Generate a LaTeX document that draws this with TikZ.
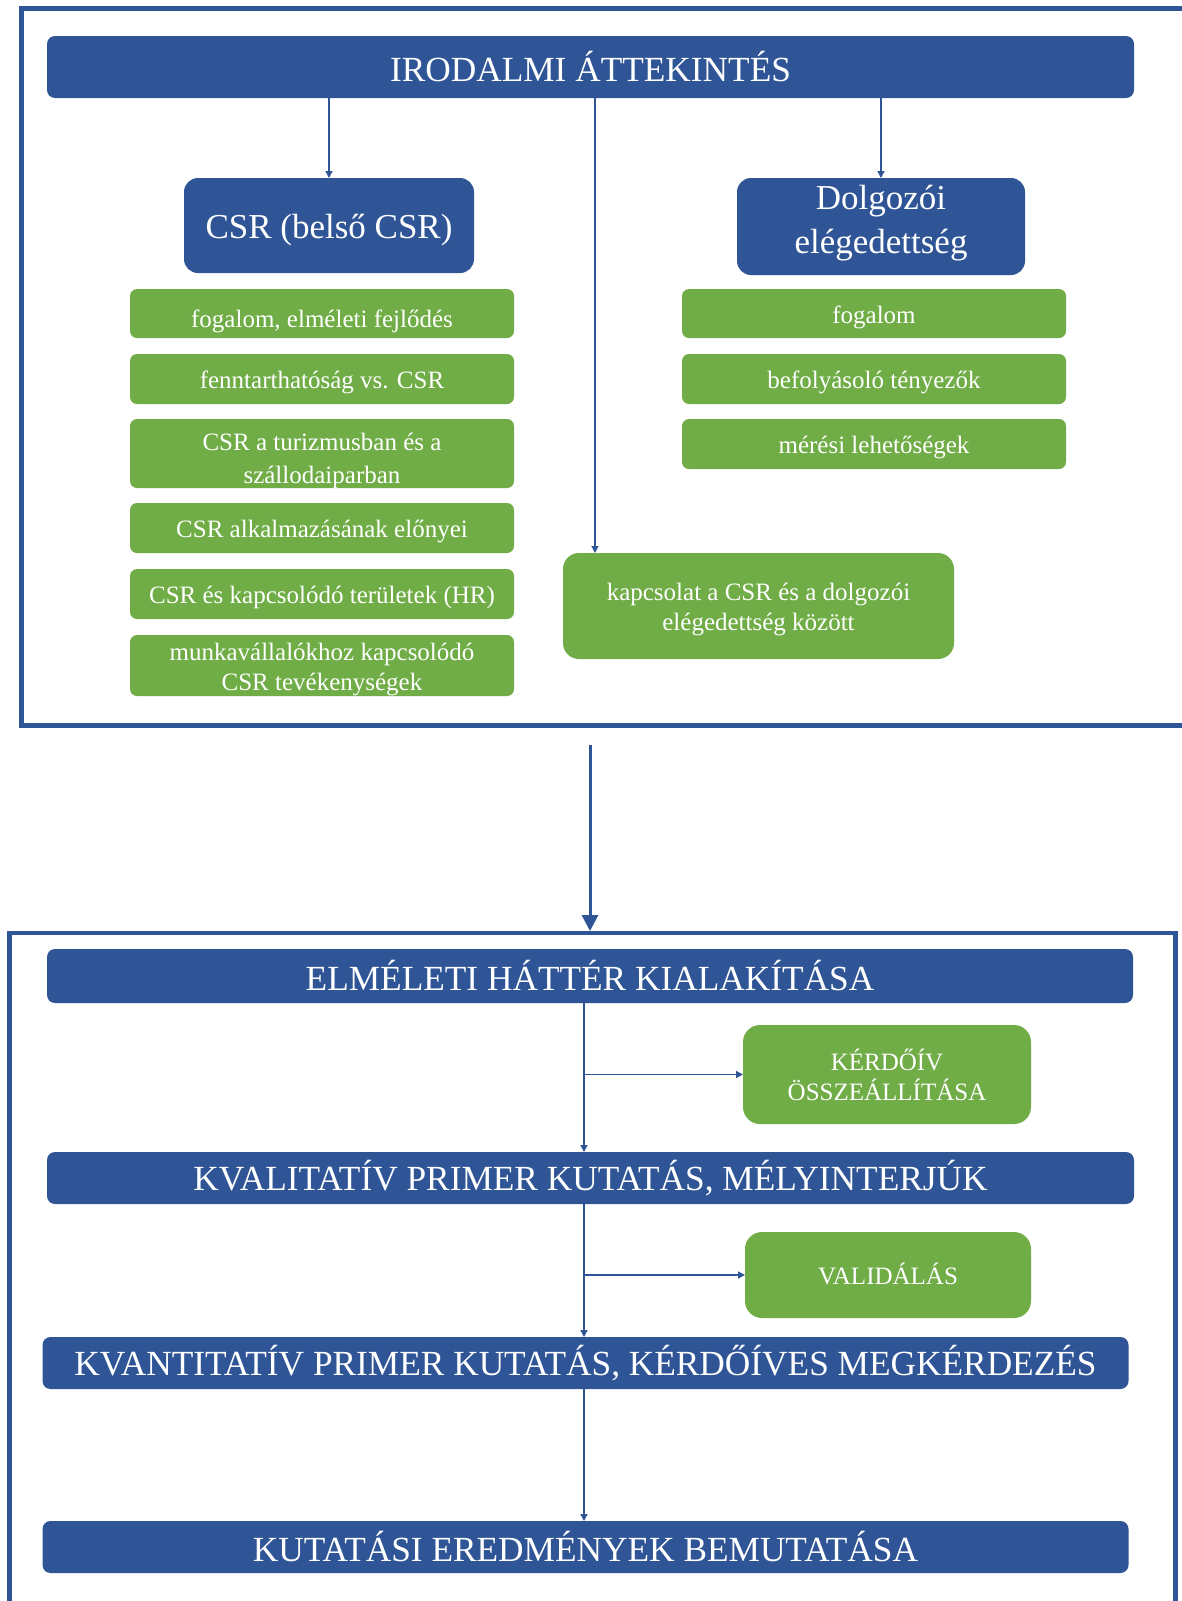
\documentclass[tikz,border=0pt]{standalone}
\usepackage{fontspec}
\setmainfont{Liberation Serif}
\usetikzlibrary{arrows.meta}
\definecolor{navy}{HTML}{2F5597}
\definecolor{leaf}{HTML}{70AD47}
\begin{document}
\begin{tikzpicture}[x=1pt,y=-1pt,
  card/.style={inner sep=0pt, outer sep=0pt, text=white, align=center},
  bluebar/.style={card, fill=navy, rounded corners=8pt, minimum width=1087pt, minimum height=54pt,
    font=\fontsize{35.3}{40}\selectfont},
  bluehead/.style={card, fill=navy, rounded corners=14pt},
  greenbar/.style={card, fill=leaf, rounded corners=7pt, minimum width=384pt},
  greenbig/.style={card, fill=leaf, rounded corners=17pt},
  headtext/.style={card, font=\fontsize{35}{44}\selectfont},
  greentext/.style={card, font=\fontsize{25}{30}\selectfont},
  frame/.style={draw=navy},
  link/.style={draw=navy, line width=1.4pt, -{Triangle[width=7pt,length=7pt]}},
  bigarrow/.style={draw=navy, line width=3pt, -{Triangle[width=16pt,length=16pt]}}]

\clip (0,0) rectangle (1182,1601);
\fill[white] (0,0) rectangle (1182,1601);

% outer frames
\draw[frame, line width=5pt] (21,8.5) rectangle (1210,725.5);
\draw[frame, line width=4.5pt] (9.5,933) rectangle (1175.5,1625);

% literature review block
\node[bluebar, minimum height=62pt] (lit) at (590.5,67) {IRODALMI ÁTTEKINTÉS};

\node[bluehead, minimum width=290pt, minimum height=95pt] (csr) at (329,225.5) {};
\node[headtext] (csrt) at ([yshift=-5pt]csr.center) {CSR (belső CSR)};
\node[bluehead, minimum width=288pt, minimum height=97pt] (dolg) at (881,226.5) {};
\node[headtext] (dolgt) at ([yshift=3pt]dolg.center) {Dolgozói\\elégedettség};

\node[greenbar, minimum height=49pt] (g1) at (322,313.5) {};
\node[greenbar, minimum height=50pt] (g2) at (322,379) {};
\node[greenbar, minimum height=69pt] (g3) at (322,453.5) {};
\node[greenbar, minimum height=50pt] (g4) at (322,528) {};
\node[greenbar, minimum height=50pt] (g5) at (322,594) {};
\node[greenbar, minimum height=61pt] (g6) at (322,665.5) {};
\node[greentext] (g1t) at ([yshift=-8pt]g1.center) {fogalom, elméleti fejlődés};
\node[greentext] (g2t) at ([yshift=-3.5pt]g2.center) {fenntarthatóság vs. CSR};
\node[greentext, font=\fontsize{25}{33}\selectfont] (g3t) at ([yshift=-7.5pt]g3.center) {CSR a turizmusban és a\\szállodaiparban};
\node[greentext] (g4t) at ([yshift=-3.5pt]g4.center) {CSR alkalmazásának előnyei};
\node[greentext] (g5t) at ([yshift=-3.5pt]g5.center) {CSR és kapcsolódó területek (HR)};
\node[greentext] (g6t) at ([yshift=-3.5pt]g6.center) {munkavállalókhoz kapcsolódó\\CSR tevékenységek};

\node[greenbar, minimum height=49pt] (r1) at (874,313.5) {};
\node[greenbar, minimum height=50pt] (r2) at (874,379) {};
\node[greenbar, minimum height=50pt] (r3) at (874,444) {};
\node[greentext] (r1t) at ([yshift=-4pt]r1.center) {fogalom};
\node[greentext] (r2t) at ([yshift=-3.5pt]r2.center) {befolyásoló tényezők};
\node[greentext] (r3t) at ([yshift=-4pt]r3.center) {mérési lehetőségek};

\node[greenbig, rounded corners=16pt, minimum width=391pt, minimum height=106pt] (rel) at (758.5,606) {};
\node[greentext] (relt) at ([yshift=-3.5pt]rel.center) {kapcsolat a CSR és a dolgozói\\elégedettség között};

\coordinate (mid) at (595,0);
\draw[link] (csr.north |- lit.south) -- (csr.north);
\draw[link] (dolg.north |- lit.south) -- (dolg.north);
\draw[link] (lit.south -| mid) -- (rel.north -| mid);

% transition between the two phases
\coordinate (gapTop) at (590,745);
\coordinate (gapBot) at (590,931);
\draw[bigarrow] (gapTop) -- (gapBot);

% research process block
\node[bluebar, minimum width=1086pt] (theory) at (590,976) {ELMÉLETI HÁTTÉR KIALAKÍTÁSA};
\node[greenbig, minimum width=288pt, minimum height=99pt] (quest) at (887,1074.5) {};
\node[greentext] (questt) at (quest.center) {KÉRDŐÍV\\ÖSSZEÁLLÍTÁSA};
\node[bluebar, minimum width=1087pt, minimum height=52pt] (qual) at (590.5,1178) {KVALITATÍV PRIMER KUTATÁS, MÉLYINTERJÚK};
\node[greenbig, minimum width=286pt, minimum height=86pt] (valid) at (888,1275) {};
\node[greentext] (validt) at ([yshift=1pt]valid.center) {VALIDÁLÁS};
\node[bluebar, minimum width=1086pt, minimum height=52pt] (quant) at (585.5,1363) {KVANTITATÍV PRIMER KUTATÁS, KÉRDŐÍVES MEGKÉRDEZÉS};
\node[bluebar, minimum width=1086pt, minimum height=52pt] (res) at (585.5,1547) {KUTATÁSI EREDMÉNYEK BEMUTATÁSA};

\coordinate (spine) at (584,0);
\draw[link] (theory.south -| spine) -- (qual.north -| spine);
\draw[link] (spine |- quest.west) -- (quest.west);
\draw[link] (qual.south -| spine) -- (quant.north -| spine);
\draw[link] (spine |- valid.west) -- (valid.west);
\draw[link] (quant.south -| spine) -- (res.north -| spine);
\end{tikzpicture}
\end{document}
